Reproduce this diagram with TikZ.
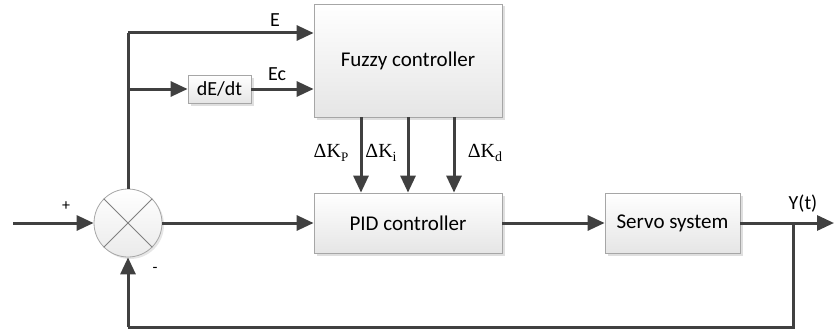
\documentclass[tikz,border=0pt]{standalone}
\usepackage{fontspec}
\setmainfont{Carlito}
\newfontfamily\serifK{Liberation Serif}
\usetikzlibrary{arrows.meta,shadows}
\definecolor{linec}{HTML}{404040}
\definecolor{boxb}{HTML}{A6A6A6}
\begin{document}
\begin{tikzpicture}[x=1pt,y=-1pt,
  blk/.style={draw=boxb, line width=0.8pt, top color=white, bottom color=black!10,
    drop shadow={opacity=0.25, shadow xshift=2.5pt, shadow yshift=-2.5pt},
    font=\fontsize{21}{25}\selectfont, inner sep=0pt},
  conn/.style={draw=linec, line width=3pt, -{Triangle[length=17pt,width=15pt]}},
  wire/.style={draw=linec, line width=3pt},
  lbl/.style={font=\fontsize{20}{24}\selectfont, inner sep=0pt},
  klbl/.style={font=\serifK\fontsize{20}{24}\selectfont, inner sep=0pt}]
\useasboundingbox (0,0) rectangle (834,329);
% blocks
\node[blk, minimum width=188pt, minimum height=113pt] (fuzzy) at (408,60.5) {Fuzzy controller};
\node[blk, minimum width=188pt, minimum height=60pt] (pid) at (408,223) {PID controller};
\node[blk, minimum width=135pt, minimum height=60pt] (servo) at (672.5,223) {Servo system};
\node[blk, minimum width=63pt, minimum height=28pt, font=\fontsize{20}{24}\selectfont] (dedt) at (219.5,89) {dE/dt};
\node[circle, draw=boxb, line width=0.8pt, minimum size=68pt, inner sep=0pt,
  top color=white, bottom color=black!8,
  drop shadow={opacity=0.2, shadow xshift=2pt, shadow yshift=-2pt}] (sum) at (128,223) {};
\draw[draw=gray, line width=0.8pt] (sum.north west) -- (sum.south east);
\draw[draw=gray, line width=0.8pt] (sum.north east) -- (sum.south west);
% coordinates
\coordinate (in) at (13,223);
\coordinate (out) at (834,223);
\coordinate (fb) at (793,223);
\coordinate (fbb) at (793,327);
\coordinate (fbl) at (128,327);
\coordinate (top) at (128,33);
\coordinate (br) at (128,89);
% connectors
\draw[conn] (in) -- (sum.west);
\draw[conn] (sum.east) -- (pid.west);
\draw[conn] (pid.east) -- (servo.west);
\draw[conn] (servo.east) -- (out);
\draw[wire] (fb) -- (fbb) -- (fbl);
\draw[conn] (fbl) -- (sum.south);
\draw[wire] (sum.north) -- (top);
\draw[conn] (top) -- (top -| fuzzy.west);
\draw[conn] (br) -- (dedt.west);
\draw[conn] (dedt.east) -- (dedt.east -| fuzzy.west);
\draw[conn] (361,117) coordinate (k1) -- (k1 |- pid.north);
\draw[conn] (408,117) coordinate (k2) -- (k2 |- pid.north);
\draw[conn] (454,117) coordinate (k3) -- (k3 |- pid.north);
% labels
\node[lbl] (lE) at (275,20) {E};
\node[lbl] (lEc) at (277,74) {Ec};
\node[lbl] (lY) at (803,204) {Y(t)};
\node[lbl, font=\fontsize{16}{18}\selectfont] (lp) at (66,206) {+};
\node[lbl, font=\fontsize{16}{18}\selectfont] (lm) at (155,270) {-};
\node[klbl] (kp) at (331,153) {ΔK\raisebox{-0.2em}{\fontsize{13}{15}\selectfont P}};
\node[klbl] (ki) at (381,153) {ΔK\raisebox{-0.2em}{\fontsize{14}{16}\selectfont i}};
\node[klbl] (kd) at (485,153) {ΔK\raisebox{-0.2em}{\fontsize{14}{16}\selectfont d}};
\end{tikzpicture}
\end{document}
